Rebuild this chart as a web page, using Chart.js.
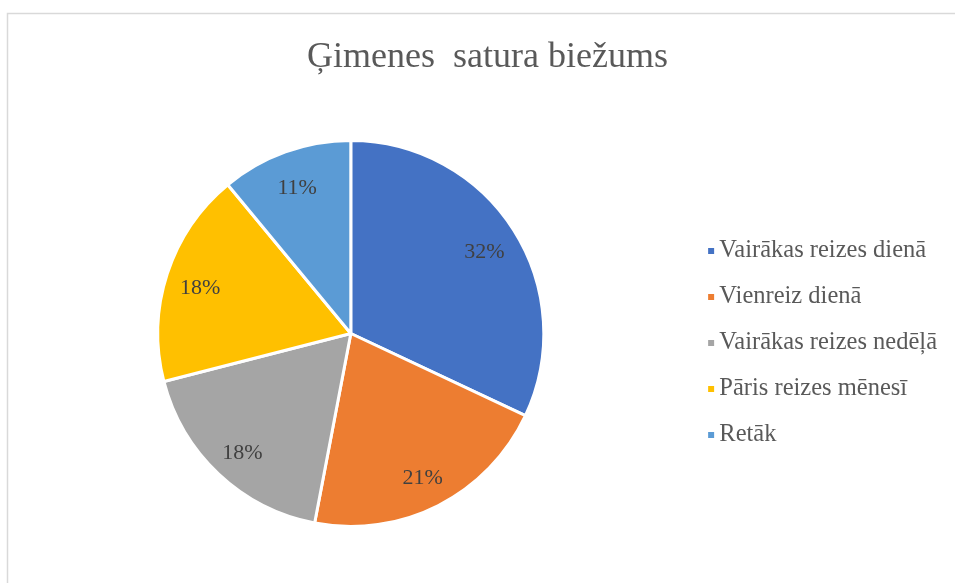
<!DOCTYPE html>
<html>
<head>
<meta charset="utf-8">
<script src="https://cdn.jsdelivr.net/npm/chart.js@4"></script>
<style>
  html, body { margin: 0; padding: 0; overflow: hidden; background: #fff; }
  #c { display: block; }
</style>
</head>
<body>
<canvas id="c" width="975" height="583"></canvas>
<script>
const categories = ["Vairākas reizes dienā", "Vienreiz dienā", "Vairākas reizes nedēļā", "Pāris reizes mēnesī", "Retāk"];
const values = [32, 21, 18, 18, 11];
const colors = ["#4472C4", "#ED7D31", "#A5A5A5", "#FFC000", "#5B9BD5"];
const titleText = "Ģimenes  satura biežums";

Chart.defaults.font.family = '"Liberation Serif", "Times New Roman", serif';

const frame = {
  id: 'frame',
  beforeDraw(chart) {
    const ctx = chart.ctx;
    ctx.save();
    ctx.fillStyle = '#ffffff';
    ctx.fillRect(0, 0, chart.width, chart.height);
    ctx.strokeStyle = '#d9d9d9';
    ctx.lineWidth = 1.5;
    ctx.strokeRect(7.5, 13.5, 2000, 2000);
    ctx.restore();
  }
};

// empty layout box to the right of the legend (keeps title centred on the full frame)
const rightGap = {
  id: 'rightGap',
  beforeInit(chart) {
    Chart.layouts.addBox(chart, {
      position: 'right', weight: 2000, fullSize: false,
      options: { display: false },
      width: 0, height: 0, left: 0, top: 0, right: 0, bottom: 0,
      isHorizontal() { return false; },
      update(maxWidth, maxHeight) { this.width = 6; this.height = maxHeight; },
      draw() {}
    });
  }
};

const sliceLabels = {
  id: 'sliceLabels',
  afterDatasetsDraw(chart) {
    const ctx = chart.ctx;
    const meta = chart.getDatasetMeta(0);
    const data = chart.data.datasets[0].data;
    ctx.save();
    ctx.font = '22px "Liberation Serif"';
    ctx.fillStyle = '#404040';
    ctx.textAlign = 'center';
    ctx.textBaseline = 'middle';
    meta.data.forEach((arc, i) => {
      const p = arc.getProps(['x', 'y', 'startAngle', 'endAngle', 'outerRadius'], true);
      const mid = (p.startAngle + p.endAngle) / 2;
      const r = p.outerRadius * 0.82;
      ctx.fillText(data[i] + '%', p.x + Math.cos(mid) * r, p.y + Math.sin(mid) * r + 4);
    });
    ctx.restore();
  }
};

function legendMarker(color) {
  const c = document.createElement('canvas');
  c.width = 26; c.height = 6;
  const g = c.getContext('2d');
  g.fillStyle = color;
  g.fillRect(17, 0, 6, 6);
  return c;
}

const pieLegendLabels = Chart.overrides.pie.plugins.legend.labels.generateLabels;

new Chart(document.getElementById('c'), {
  type: 'pie',
  data: {
    labels: categories,
    datasets: [{
      data: values,
      backgroundColor: colors,
      borderColor: '#ffffff',
      borderWidth: 3,
      hoverOffset: 0
    }]
  },
  options: {
    responsive: false,
    animation: false,
    devicePixelRatio: 1,
    radius: 193,
    layout: { padding: { left: 22, right: 22, top: 0, bottom: 55 } },
    plugins: {
      tooltip: { enabled: false },
      title: {
        display: true,
        text: titleText,
        color: '#595959',
        font: { family: '"Liberation Serif"', size: 36, weight: 'normal', lineHeight: 1.2 },
        padding: { top: 36.4, bottom: 59.4 }
      },
      legend: {
        position: 'right',
        fullSize: false,
        title: { display: true, text: '', font: { size: 10, lineHeight: 1.2 }, padding: { top: 0, bottom: 6 } },
        labels: {
          usePointStyle: true,
          boxWidth: 6,
          boxHeight: 6,
          padding: 21.5,
          color: '#595959',
          font: { family: '"Liberation Serif"', size: 24.5, weight: 'normal' },
          generateLabels(chart) {
            return pieLegendLabels(chart).map(item => Object.assign(item, {
              lineWidth: 0,
              strokeStyle: item.fillStyle,
              pointStyle: legendMarker(item.fillStyle)
            }));
          }
        }
      }
    }
  },
  plugins: [frame, rightGap, sliceLabels]
});
</script>
</body>
</html>
